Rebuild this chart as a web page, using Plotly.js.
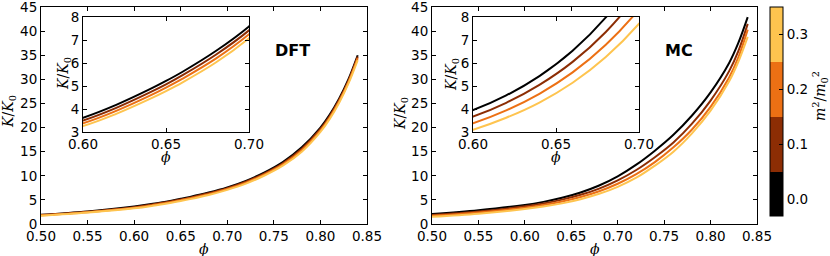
<!DOCTYPE html>
<html>
<head>
<meta charset="utf-8">
<script src="https://cdn.plot.ly/plotly-3.0.1.min.js"></script>
<style>html,body{margin:0;padding:0;background:#fff}#chart{width:830px;height:256px}</style>
</head>
<body>
<div id="chart"></div>
<script>
// ---- data ----
const massValues = [0.0, 0.1, 0.2, 0.3];
const massTickText = ['0.0', '0.1', '0.2', '0.3'];

const mainXTicks = [0.50, 0.55, 0.60, 0.65, 0.70, 0.75, 0.80, 0.85];
const mainXText = ['0.50', '0.55', '0.60', '0.65', '0.70', '0.75', '0.80', '0.85'];
const mainYTicks = [0, 5, 10, 15, 20, 25, 30, 35, 40, 45];
const insetXTicks = [0.60, 0.65, 0.70];
const insetXText = ['0.60', '0.65', '0.70'];
const insetYTicks = [3, 4, 5, 6, 7, 8];

const phiDFT = [0.50, 0.55, 0.60, 0.62, 0.64, 0.65, 0.66, 0.68, 0.70, 0.72, 0.74, 0.76, 0.78, 0.80, 0.81, 0.82, 0.83, 0.84];
const dftM00 = [1.90, 2.60, 3.62, 4.18, 4.85, 5.22, 5.62, 6.52, 7.59, 8.95, 10.7, 12.9, 15.9, 20.0, 22.7, 26.0, 30.0, 35.0];
const dftM01 = [1.85, 2.53, 3.50, 4.05, 4.71, 5.07, 5.47, 6.36, 7.42, 8.76, 10.5, 12.65, 15.6, 19.7, 22.4, 25.7, 29.7, 34.7];
const dftM02 = [1.79, 2.46, 3.38, 3.92, 4.57, 4.93, 5.32, 6.19, 7.25, 8.57, 10.28, 12.4, 15.3, 19.4, 22.1, 25.4, 29.4, 34.4];
const dftM03 = [1.72, 2.38, 3.26, 3.79, 4.43, 4.78, 5.16, 6.02, 7.08, 8.38, 10.06, 12.15, 15.0, 19.1, 21.8, 25.1, 29.1, 34.0];

const phiMC = [0.50, 0.55, 0.60, 0.62, 0.64, 0.66, 0.68, 0.70, 0.72, 0.74, 0.76, 0.78, 0.80, 0.82, 0.83, 0.84];
const mcM00 = [2.05, 2.85, 3.95, 4.59, 5.43, 6.53, 7.98, 9.88, 12.3, 15.2, 18.5, 22.5, 27.3, 33.4, 37.6, 42.9];
const mcM01 = [1.85, 2.60, 3.67, 4.27, 5.05, 6.05, 7.35, 9.05, 11.2, 13.85, 16.9, 20.8, 25.6, 31.7, 35.9, 41.5];
const mcM02 = [1.70, 2.40, 3.38, 3.94, 4.66, 5.59, 6.79, 8.34, 10.34, 12.84, 15.9, 19.6, 24.3, 30.4, 34.6, 40.3];
const mcM03 = [1.50, 2.15, 3.10, 3.62, 4.28, 5.14, 6.26, 7.71, 9.60, 12.1, 15.0, 18.8, 23.5, 29.6, 33.7, 38.8];

// ---- styles ----
const lineColors = ['#000000', '#8c2d04', '#ec7014', '#fec44f'];
const W = 830, H = 256;
const px = v => v / W;
const py = v => 1 - v / H;

const dftSeries = [dftM00, dftM01, dftM02, dftM03];
const mcSeries = [mcM00, mcM01, mcM02, mcM03];

const traces = [];
function addSet(xs, series, xa, ya) {
  series.forEach((ys, i) => {
    traces.push({
      x: xs, y: ys, xaxis: xa, yaxis: ya, type: 'scatter', mode: 'lines',
      line: {color: lineColors[i], width: 2, shape: 'spline', smoothing: 1},
      showlegend: false, hoverinfo: 'skip',
      name: 'm²/m₀² = ' + massValues[i]
    });
  });
}
addSet(phiDFT, dftSeries, 'x', 'y');
addSet(phiDFT, dftSeries, 'x2', 'y2');
addSet(phiMC, mcSeries, 'x3', 'y3');
addSet(phiMC, mcSeries, 'x4', 'y4');

// colorbar carrier
const cmin = -0.03, cmax = 0.35;
const bnd = [0.05, 0.15, 0.25].map(b => (b - cmin) / (cmax - cmin));
const cs = [[0, lineColors[0]], [bnd[0], lineColors[0]], [bnd[0], lineColors[1]], [bnd[1], lineColors[1]],
            [bnd[1], lineColors[2]], [bnd[2], lineColors[2]], [bnd[2], lineColors[3]], [1, lineColors[3]]];
const tickFont = {family: 'DejaVu Sans', size: 13.5, color: '#000'};
traces.push({
  x: [null], y: [null], xaxis: 'x', yaxis: 'y', type: 'scatter', mode: 'markers', showlegend: false,
  marker: {color: [massValues[0]], colorscale: cs, cmin: cmin, cmax: cmax, showscale: true,
    colorbar: {
      x: px(770), xanchor: 'left', y: py(7), yanchor: 'top',
      len: 209 / H, lenmode: 'fraction', thickness: 13, thicknessmode: 'pixels',
      xpad: 0, ypad: 0, outlinewidth: 1, outlinecolor: '#000',
      tickmode: 'array', tickvals: massValues, ticktext: massTickText,
      ticks: 'inside', ticklen: 4, tickcolor: '#000', tickwidth: 1,
      tickfont: tickFont
    }}
});

function ax(domain, range, tickvals, ticktext, extra) {
  const o = {
    domain: domain, range: range, tickmode: 'array', tickvals: tickvals,
    showline: true, mirror: 'allticks', linecolor: '#000', linewidth: 1,
    ticks: 'inside', ticklen: 4, tickcolor: '#000', tickwidth: 1,
    showgrid: false, zeroline: false, tickfont: tickFont, fixedrange: true,
    ticklabeloverflow: 'allow'
  };
  if (ticktext) o.ticktext = ticktext;
  return Object.assign(o, extra || {});
}

const layout = {
  width: W, height: H, margin: {l: 0, r: 0, t: 0, b: 0},
  paper_bgcolor: '#fff', plot_bgcolor: 'rgba(0,0,0,0)', showlegend: false,
  xaxis:  ax([px(41), px(367)], [0.5, 0.85], mainXTicks, mainXText, {anchor: 'y'}),
  yaxis:  ax([py(224), py(7)], [0, 45], mainYTicks, null, {anchor: 'x'}),
  xaxis2: ax([px(83), px(249)], [0.6, 0.7], insetXTicks, insetXText, {anchor: 'y2'}),
  yaxis2: ax([py(132), py(17)], [3, 8], insetYTicks, null, {anchor: 'x2'}),
  xaxis3: ax([px(432), px(757)], [0.5, 0.85], mainXTicks, mainXText, {anchor: 'y3'}),
  yaxis3: ax([py(224), py(7)], [0, 45], mainYTicks, null, {anchor: 'x3'}),
  xaxis4: ax([px(473), px(639)], [0.6, 0.7], insetXTicks, insetXText, {anchor: 'y4'}),
  yaxis4: ax([py(132), py(17)], [3, 8], insetYTicks, null, {anchor: 'x4'}),
  annotations: []
};

const mathFont = {family: 'DejaVu Serif', size: 14, color: '#000'};
function ann(text, x, y, angle, font) {
  layout.annotations.push({text: text, x: px(x), y: py(y), xref: 'paper', yref: 'paper',
    xanchor: 'center', yanchor: 'middle', showarrow: false, textangle: angle || 0, font: font || mathFont});
}
const kLabel = '<i>K</i>/<i>K</i><sub>0</sub>';
const phiLabel = '<i>ϕ</i>';
ann(kLabel, 9, 112, -90);
ann(kLabel, 401, 114, -90);
ann(kLabel, 64, 74, -90);
ann(kLabel, 452, 75, -90);
ann(phiLabel, 204, 249);
ann(phiLabel, 595, 249);
ann(phiLabel, 166, 157);
ann(phiLabel, 556, 157);
ann('<b>DFT</b>', 292, 50, 0, {family: 'DejaVu Sans', size: 16, color: '#000'});
ann('<b>MC</b>', 679, 50, 0, {family: 'DejaVu Sans', size: 16, color: '#000'});
ann('<i>m</i><sup>2</sup>/<i>m</i><sub>0</sub><sup>2</sup>', 820, 96, -90, mathFont);

Plotly.newPlot('chart', traces, layout, {staticPlot: true, displayModeBar: false});
</script>
</body>
</html>
